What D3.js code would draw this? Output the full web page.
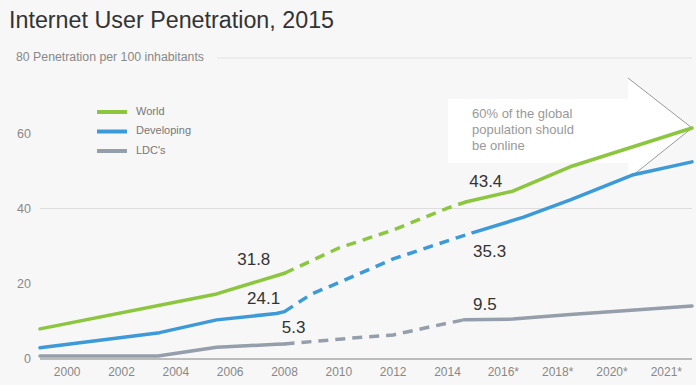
<!DOCTYPE html>
<html>
<head>
<meta charset="utf-8">
<script src="https://cdn.jsdelivr.net/npm/d3@7"></script>
<style>
  html, body { margin: 0; padding: 0; background: #f7f7f7; }
  svg { display: block; }
  text { font-family: "Liberation Sans", "Helvetica Neue", Arial, sans-serif; }
</style>
</head>
<body>
<svg id="chart" width="696" height="385"></svg>
<script>
// ---- data ----
const tickLabels = ["2000","2002","2004","2006","2008","2010","2012","2014","2016*","2018*","2020*","2021*"];
const yTicks = [0, 20, 40, 60, 80];
const seriesNames = ["World", "Developing", "LDC's"];
// positions are in tick-index units (0 = "2000", 11 = "2021*")
const worldSolidA = [[-0.5, 8.0], [2.75, 17.3], [4, 22.8]];
const worldDashed = [[4, 22.8], [5, 29.5], [6, 34.3], [7, 40.1], [7.35, 41.8]];
const worldSolidB = [[7.35, 41.8], [8.2, 44.6], [9.3, 51.3], [11.5, 61.4]];
const devSolidA = [[-0.5, 3.0], [1.7, 7.0], [2.75, 10.4], [3.85, 12.1], [4, 12.6]];
const devDashed = [[4, 12.6], [4.5, 17.3], [5, 20.3], [6, 26.6], [7, 31.4], [7.47, 33.6]];
const devSolidB = [[7.47, 33.6], [8.4, 37.7], [9.26, 42.3], [10.4, 48.9], [11.5, 52.4]];
const ldcSolidA = [[-0.5, 0.8], [1.67, 0.8], [2.75, 3.1], [3.85, 3.9], [4, 4.0]];
const ldcDashed = [[4, 4.0], [5.2, 5.5], [6, 6.4], [6.7, 8.6], [7.3, 10.4]];
const ldcSolidB = [[7.3, 10.4], [8.2, 10.6], [9.26, 11.8], [11.5, 14.1]];
const valueLabels = ["31.8", "24.1", "5.3", "43.4", "35.3", "9.5"];
const valueLabelPos = [[3.13, 26.3], [3.31, 15.9], [3.95, 8.0], [7.4, 47], [7.47, 28.2], [7.47, 14.1]];
const noteLines = ["60% of the global", "population should", "be online"];

// ---- chart ----
const svg = d3.select("#chart");
const W = 696, H = 385;
const colors = ["#8cc63f", "#3d9ad8", "#959eab"];

const x = d3.scaleLinear().domain([-0.5, 11.5]).range([40, 692]);
const y = d3.scaleLinear().domain([0, 80]).range([359, 58]);

svg.append("rect").attr("width", W).attr("height", H).attr("fill", "#f7f7f7");

// title
svg.append("text").attr("x", 9).attr("y", 28)
  .attr("font-size", 23.3).attr("fill", "#333").text("Internet User Penetration, 2015");

// gridlines
svg.append("line").attr("x1", x(-0.5)).attr("x2", x(11.5))
  .attr("y1", y(40)).attr("y2", y(40)).attr("stroke", "#dcdcdc").attr("stroke-width", 1);
svg.append("line").attr("x1", 217).attr("x2", x(11.5))
  .attr("y1", y(80)).attr("y2", y(80)).attr("stroke", "#e2e2e2").attr("stroke-width", 1);
svg.append("line").attr("x1", x(-0.5)).attr("x2", x(11.5))
  .attr("y1", y(0)).attr("y2", y(0)).attr("stroke", "#a9a9a9").attr("stroke-width", 1.5);

// y labels
svg.append("g").selectAll("text").data(yTicks.filter(d => d < 80)).join("text")
  .attr("x", 31).attr("y", d => y(d) + 1).attr("text-anchor", "end")
  .attr("dominant-baseline", "middle").attr("font-size", 12.5).attr("fill", "#888")
  .text(d => d);
svg.append("text").attr("x", 16).attr("y", y(80)).attr("dominant-baseline", "middle")
  .attr("font-size", 12.3).attr("fill", "#888").text("80 Penetration per 100 inhabitants");

// x labels
svg.append("g").selectAll("text").data(tickLabels).join("text")
  .attr("x", (d, i) => x(i) + (d.endsWith("*") ? 1.5 : 0)).attr("y", 373)
  .attr("text-anchor", "middle").attr("dominant-baseline", "middle")
  .attr("font-size", 12).attr("fill", "#888").text(d => d);

// annotation arrow
const ax0 = 448, ax1 = 628, tipX = x(11.5), tipY = y(61.4);
svg.append("path")
  .attr("d", `M${ax0},99 L${ax1},99 L${ax1},78 L${tipX},${tipY} L${ax1},180 L${ax1},163 L${ax0},163 Z`)
  .attr("fill", "#ffffff");
svg.append("path")
  .attr("d", `M${ax1},78 L${tipX},${tipY} L${ax1 + 4},176`)
  .attr("fill", "none").attr("stroke", "#999").attr("stroke-width", 1);
svg.append("g").selectAll("text").data(noteLines).join("text")
  .attr("x", 472).attr("y", (d, i) => 115 + i * 16).attr("dominant-baseline", "middle")
  .attr("font-size", 13).attr("fill", "#999").text(d => d);

// lines
const line = d3.line().x(d => x(d[0])).y(d => y(d[1]));
const segs = [
  [worldSolidA, 0, false], [worldDashed, 0, true], [worldSolidB, 0, false],
  [devSolidA, 1, false], [devDashed, 1, true], [devSolidB, 1, false],
  [ldcSolidA, 2, false], [ldcDashed, 2, true], [ldcSolidB, 2, false]
];
svg.append("g").selectAll("path").data(segs).join("path")
  .attr("d", d => line(d[0])).attr("fill", "none")
  .attr("stroke", d => colors[d[1]]).attr("stroke-width", 3.5)
  .attr("stroke-linecap", d => d[2] ? "butt" : "round")
  .attr("stroke-linejoin", "round")
  .attr("stroke-dasharray", d => d[2] ? "10,7" : null);

// legend
const lg = svg.append("g").selectAll("g").data(seriesNames).join("g")
  .attr("transform", (d, i) => `translate(97,${112 + i * 19.5})`);
lg.append("line").attr("x1", 0).attr("x2", 30).attr("stroke", (d, i) => colors[i])
  .attr("stroke-width", 4);
lg.append("text").attr("x", 39).attr("y", 0).attr("dominant-baseline", "middle")
  .attr("font-size", 11).attr("fill", "#777").text(d => d);

// value labels
svg.append("g").selectAll("text").data(valueLabels).join("text")
  .attr("x", (d, i) => x(valueLabelPos[i][0]))
  .attr("y", (d, i) => y(valueLabelPos[i][1]))
  .attr("dominant-baseline", "middle").attr("text-anchor", "start")
  .attr("font-size", 17).attr("fill", "#333").text(d => d);
</script>
</body>
</html>
